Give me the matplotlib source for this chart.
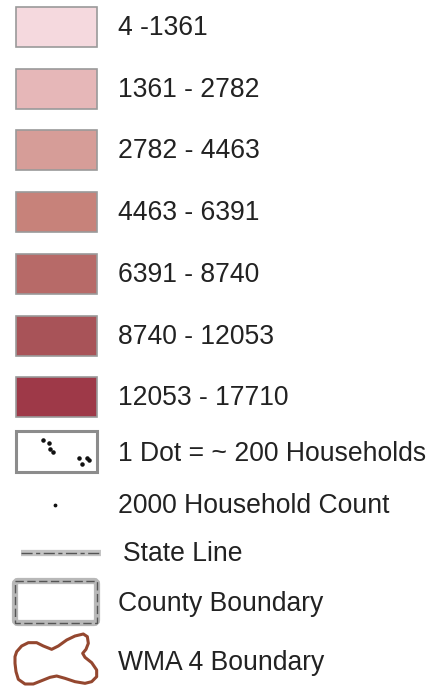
import numpy as np
import matplotlib
matplotlib.use("Agg")
import matplotlib.pyplot as plt
from matplotlib.patches import Rectangle, FancyBboxPatch, Polygon

# legend content
class_labels = ["4 -1361", "1361 - 2782", "2782 - 4463", "4463 - 6391",
                "6391 - 8740", "8740 - 12053", "12053 - 17710"]
class_colors = ["#f5d9de", "#e6b7b8", "#d69d98", "#c7827a",
                "#b76a68", "#a85358", "#9e3948"]
symbol_labels = ["1 Dot = ~ 200 Households", "2000 Household Count",
                 "State Line", "County Boundary", "WMA 4 Boundary"]

# dot sample inside the dot-density box
dot_x = [43.3, 49.0, 49.7, 52.7, 79.0, 87.3, 89.0, 82.3]
dot_y = [440.0, 442.7, 448.7, 452.3, 458.3, 458.3, 460.0, 463.7]

# WMA outline (traced, 3x scale)
wma_x = [50, 65, 85, 110, 130, 155, 175, 200, 225, 250, 262, 265, 258, 248,
         255, 275, 290, 290, 275, 255, 225, 195, 170, 150, 125, 100, 75, 55,
         48, 45, 45]
wma_y = [95, 78, 68, 68, 78, 88, 78, 60, 48, 42, 50, 70, 88, 100,
         112, 128, 150, 170, 185, 190, 185, 175, 168, 172, 182, 192, 192, 178,
         155, 130, 110]

W, H = 434, 686
fig = plt.figure(figsize=(W / 100, H / 100), dpi=100)
ax = fig.add_axes([0, 0, 1, 1])
ax.set_xlim(0, W)
ax.set_ylim(H, 0)
ax.axis("off")

fs = 19.1
tcol = "#222222"
font = "Liberation Sans"

row_y = [27 + i * 61.7 for i in range(len(class_labels))]
for y, lab, c in zip(row_y, class_labels, class_colors):
    ax.add_patch(Rectangle((15.5, y - 20), 81, 40, facecolor=c,
                           edgecolor="#9a9a9a", lw=1.2))
    ax.text(118, y + 1, lab, fontsize=fs, color=tcol, va="center",
            family=font)

# dot density box
ax.add_patch(Rectangle((16, 431), 81, 41, facecolor="white",
                       edgecolor="#8c8c8c", lw=2.2))
ax.scatter(dot_x, dot_y, s=5, color="#111111", zorder=3)
ax.text(118, 454, symbol_labels[0], fontsize=fs, color=tcol, va="center",
        family=font)

# single household dot
ax.scatter([55], [505], s=3, color="#111111")
ax.text(118, 506, symbol_labels[1], fontsize=fs, color=tcol, va="center",
        family=font)

# state line
ax.plot([21, 101], [553, 553], color="#c4c4c4", lw=4.5, solid_capstyle="butt")
ax.plot([21, 101], [553, 553], color="#555555", lw=1.0,
        dashes=[8, 2.5, 3, 2.5])
ax.text(123, 554, symbol_labels[2], fontsize=fs, color=tcol, va="center",
        family=font)

# county boundary
ax.add_patch(FancyBboxPatch((15, 581), 82, 42,
                            boxstyle="round,pad=0,rounding_size=3",
                            facecolor="white", edgecolor="#b8b8b8", lw=4.5))
ax.add_patch(Rectangle((15, 581), 82, 42, facecolor="none",
                       edgecolor="#555555", lw=1.0, ls=(0, (6, 2.5))))
ax.text(118, 604, symbol_labels[3], fontsize=fs, color=tcol, va="center",
        family=font)

# WMA boundary
pts = np.column_stack([np.array(wma_x) / 3, np.array(wma_y) / 3 + 620])
ax.add_patch(Polygon(pts, closed=True, facecolor="none",
                     edgecolor="#94472f", lw=2.2, joinstyle="round"))
ax.text(118, 663, symbol_labels[4], fontsize=fs, color=tcol, va="center",
        family=font)

fig.savefig("out.png", dpi=100)
